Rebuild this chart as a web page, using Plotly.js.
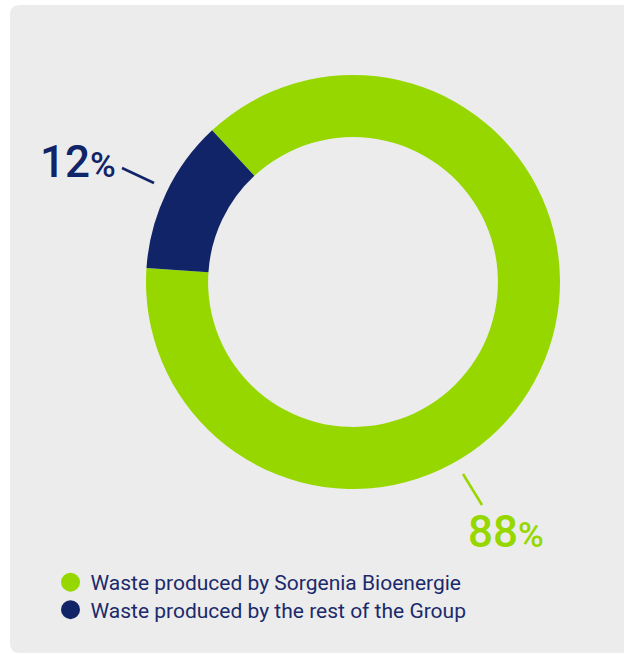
<!DOCTYPE html>
<html>
<head>
<meta charset="utf-8">
<script src="https://cdn.plot.ly/plotly-3.0.1.min.js"></script>
<style>html,body{margin:0;padding:0;background:#fff}#chart{width:624px;height:654px}</style>
</head>
<body>
<div id="chart"></div>
<script>
// Data
const categories = ["Waste produced by Sorgenia Bioenergie", "Waste produced by the rest of the Group"];
const values = [88, 12];
const colors = ["#97D700", "#122468"];

const W = 624, H = 654;
const px = v => v / W;
const py = v => 1 - v / H;

const total = values.reduce((a, b) => a + b, 0);
const pctText = values.map(v => Math.round(v / total * 100));

const pie = {
  type: "pie",
  values: values,
  labels: categories,
  marker: {colors: colors, line: {width: 0}},
  hole: 0.70,
  sort: false,
  direction: "clockwise",
  rotation: -42.9,
  textinfo: "none",
  hoverinfo: "label+percent",
  showlegend: false,
  domain: {x: [px(146), px(560)], y: [py(489), py(75)]}
};

const legendTraces = categories.map((c, i) => ({
  type: "scatter",
  mode: "markers",
  x: [null], y: [null],
  name: c,
  legend: i === 0 ? "legend" : "legend2",
  marker: {color: colors[i], size: 16, symbol: "circle", line: {color: colors[i], width: 3}},
  showlegend: true,
  hoverinfo: "skip"
}));

const labelFont = "Roboto, sans-serif";
const legendFont = {family: "Roboto, sans-serif", size: 21, color: "#1B2A6B"};

const layout = {
  width: W, height: H,
  margin: {l: 0, r: 0, t: 0, b: 0},
  paper_bgcolor: "#ffffff",
  plot_bgcolor: "rgba(0,0,0,0)",
  xaxis: {visible: false, domain: [0, 1]},
  yaxis: {visible: false, domain: [0, 1]},
  showlegend: true,
  legend: {
    x: px(50.5), y: py(562), xanchor: "left", yanchor: "top",
    bgcolor: "rgba(0,0,0,0)", font: legendFont
  },
  legend2: {
    x: px(50.5), y: py(589.5), xanchor: "left", yanchor: "top",
    bgcolor: "rgba(0,0,0,0)", font: legendFont
  },
  shapes: [
    {
      type: "path", xref: "paper", yref: "paper", layer: "below",
      path: `M ${px(20)} ${py(5)} L ${px(630)} ${py(5)} L ${px(630)} ${py(653)} L ${px(20)} ${py(653)} Q ${px(10)} ${py(653)} ${px(10)} ${py(643)} L ${px(10)} ${py(15)} Q ${px(10)} ${py(5)} ${px(20)} ${py(5)} Z`,
      fillcolor: "#ECECEC", line: {width: 0}
    },
    {type: "line", xref: "paper", yref: "paper", x0: px(122), y0: py(168), x1: px(154), y1: py(183),
     line: {color: colors[1], width: 2.5}},
    {type: "line", xref: "paper", yref: "paper", x0: px(463), y0: py(474), x1: px(482), y1: py(505),
     line: {color: colors[0], width: 2.5}}
  ],
  annotations: [
    {
      xref: "paper", yref: "paper", x: px(118), y: py(162), xanchor: "right", yanchor: "middle",
      showarrow: false,
      text: pctText[1] + "<span style='font-size:35px'>%</span>",
      font: {family: labelFont, size: 44, color: colors[1], weight: 500}
    },
    {
      xref: "paper", yref: "paper", x: px(466), y: py(532), xanchor: "left", yanchor: "middle",
      showarrow: false,
      text: pctText[0] + "<span style='font-size:35px'>%</span>",
      font: {family: labelFont, size: 44, color: colors[0], weight: 500}
    }
  ]
};

Plotly.newPlot("chart", [pie].concat(legendTraces), layout, {displayModeBar: false, staticPlot: true});
</script>
</body>
</html>
